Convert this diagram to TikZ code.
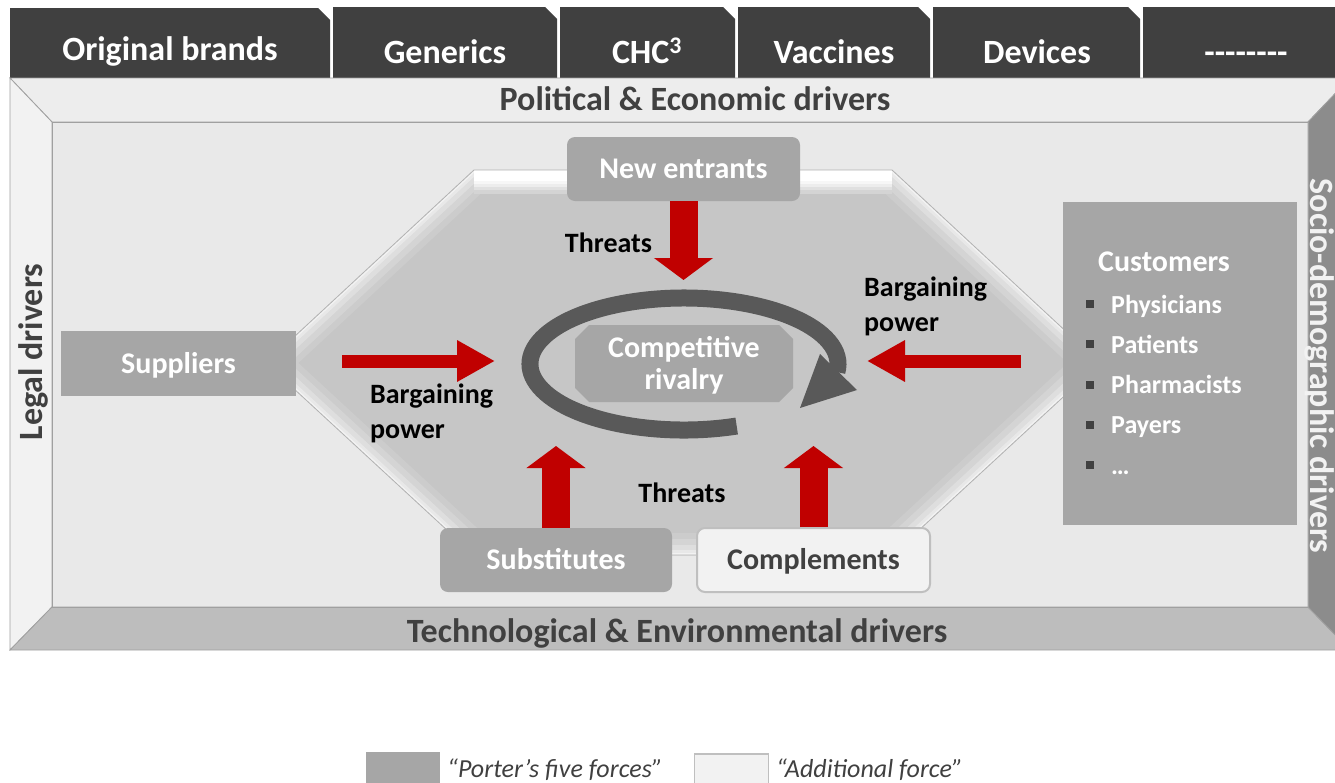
\documentclass[tikz,border=0pt]{standalone}
\usepackage{fontspec}
\setmainfont{Carlito}
\usepackage{xcolor}
\usepackage{tikz}
\usetikzlibrary{arrows.meta, positioning}
\definecolor{tabgray}{HTML}{404040}
\definecolor{boxgray}{HTML}{A6A6A6}
\definecolor{forcered}{HTML}{C00000}
\definecolor{ringgray}{HTML}{595959}
\definecolor{facegray}{HTML}{E9E9E9}
\definecolor{hexgray}{HTML}{C6C6C6}
\definecolor{edgegray}{HTML}{A0A0A0}
\definecolor{paleface}{HTML}{F2F2F2}
\newcommand{\tabfont}{\fontsize{34}{38}\selectfont\bfseries}
\newcommand{\driverfont}{\fontsize{34}{38}\selectfont\bfseries}
\newcommand{\forcefont}{\fontsize{30}{32}\selectfont\bfseries}
\newcommand{\threatfont}{\fontsize{28}{35}\selectfont\bfseries}
\newcommand{\itemfont}{\fontsize{26}{30}\selectfont\bfseries}
\newcommand{\legendfont}{\fontsize{26}{30}\selectfont\itshape}
\tikzstyle{force} = [rectangle, fill=boxgray, text=white, font=\forcefont, inner sep=0pt, text height=19pt, text depth=0pt]
\tikzstyle{roundforce} = [force, rounded corners=8pt]
\tikzstyle{threat} = [forcered, line width=28pt, -{Triangle[length=22pt, width=58pt]}]
\tikzstyle{bargain} = [forcered, line width=13pt, -{Triangle[length=38pt, width=39pt]}]
\tikzstyle{driver} = [font=\driverfont, text=tabgray, inner sep=0pt, anchor=base]
\tikzstyle{forcetext} = [font=\threatfont, align=left, inner sep=0pt]
\tikzstyle{bevel} = [draw=edgegray, line width=0.8pt]
\tikzstyle{ring} = [ringgray, line width=17pt]

\begin{document}
\begin{tikzpicture}[x=1pt, y=-1pt]
    \useasboundingbox (0,0) rectangle (1335,782);
    \clip (0,0) rectangle (1335,782);

    % segment tabs
    \foreach \xa/\xb/\ty in {10/330/8, 333/557/7, 560/735/7, 738/930/7, 933/1140/7, 1143/1360/7}
    {
        \fill[tabgray] (\xa,\ty) -- (\xb-12,\ty) -- (\xb,\ty+12) -- (\xb,78) -- (\xa,78) -- cycle;
    }
    \node (tab1) [font=\tabfont, text=white, anchor=base] at (170,60) {Original brands};
    \node (tab2) [font=\tabfont, text=white, anchor=base] at (445,63) {Generics};
    \node (tab3) [font=\tabfont, text=white, anchor=base] at (647,63) {CHC\textsuperscript{3}};
    \node (tab4) [font=\tabfont, text=white, anchor=base] at (834,63) {Vaccines};
    \node (tab5) [font=\tabfont, text=white, anchor=base] at (1037,63) {Devices};
    \node (tab6) [font=\tabfont, text=white, anchor=base] at (1246,63) {-{}-{}-{}-{}-{}-{}-{}-};

    % bevelled frame
    \fill[facegray] (52,122) rectangle (1308,607);
    \filldraw[bevel, fill=black!7] (10,78) -- (1350,78) -- (1308,122) -- (52,122) -- cycle;
    \filldraw[bevel, fill=paleface] (10,78) -- (52,122) -- (52,607) -- (10,650) -- cycle;
    \filldraw[bevel, fill=black!26] (10,650) -- (52,607) -- (1308,607) -- (1350,650) -- cycle;
    \filldraw[bevel, fill=black!45] (1350,78) -- (1308,122) -- (1308,607) -- (1350,650) -- cycle;
    \draw[bevel] (52,122) rectangle (1308,607);

    % market hexagon
    \def\hexpath{(266,363) -- (474,170) -- (892,170) -- (1100,363) -- (892,555) -- (474,555) -- cycle}
    \fill[hexgray] \hexpath;
    \begin{scope}
        \clip \hexpath;
        \draw[line width=44pt, black!20] \hexpath;
        \draw[line width=32pt, black!17] \hexpath;
        \draw[line width=20pt, black!13] \hexpath;
        \draw[line width=10pt, black!9] \hexpath;
        \draw[line width=4pt, black!5] \hexpath;
        \draw[line width=48pt, black!17] (474,170) -- (892,170);
        \draw[line width=40pt, black!12] (474,170) -- (892,170);
        \draw[line width=34pt, black!7] (474,170) -- (892,170);
        \draw[line width=28pt, black!3] (474,170) -- (892,170);
        \draw[line width=22pt, white] (474,170) -- (892,170);
    \end{scope}
    \draw[black!30, line width=0.8pt] \hexpath;

    % forces
    \node (entr) [roundforce, minimum width=233pt, minimum height=64pt] at (683.5,169) {New entrants};
    \node (supp) [force, minimum width=235pt, minimum height=65pt] at (178.5,363.5) {Suppliers};
    \node (cust) [force, minimum width=234pt, minimum height=323pt] at (1180,363.5) {};
    \node (subs) [roundforce, minimum width=232pt, minimum height=64pt] at (556,560) {Substitutes};
    \node (comp) [roundforce, fill=paleface, draw=black!25, line width=2pt, text=tabgray,
        minimum width=233pt, minimum height=64pt] at (813.5,560) {Complements};

    % customer list
    \node (custhead) [font=\forcefont, text=white, anchor=base west, inner sep=0pt] at (1098,271) {Customers};
    \foreach \itm [count=\i from 0] in {Physicians, Patients, Pharmacists, Payers, …}
    {
        \fill[tabgray] (1086,{300+40.3*\i}) rectangle (1094,{308+40.3*\i});
        \node[font=\itemfont, text=white, anchor=base west, inner sep=0pt] at (1111,{313+40.3*\i}) {\itm};
    }

    % red force arrows
    \coordinate (entrtip) at (683.5,280);
    \coordinate (supptip) at (495,361);
    \coordinate (custtip) at (867,361);
    \coordinate (substip) at (556,446);
    \coordinate (comptip) at (813.5,446);
    \draw[threat] (entr) -- (entrtip);
    \draw[threat] (subs) -- (substip);
    \draw[threat] (comp) -- (comptip);
    \draw[bargain, shorten <=46pt] (supp.east |- supptip) -- (supptip);
    \draw[bargain, shorten <=42pt] (cust.west |- custtip) -- (custtip);

    % rivalry cycle
    \draw[ring] (684,364) ++(70:154 and 66) arc[start angle=70, end angle=367, x radius=154, y radius=66];
    \fill[ringgray] (820,354) -- (857,390) -- (800,408) -- cycle;
    \fill[boxgray] (589,325) -- (779,325) -- (793,339) -- (793,388) -- (779,402)
        -- (589,402) -- (575,388) -- (575,339) -- cycle;
    \node (rival) [font=\forcefont, text=white, align=center, inner sep=0pt, anchor=north] at (684,336) {Competitive\\rivalry};

    % force labels
    \node (thrtop) [forcetext, anchor=base] at (608.5,252) {Threats};
    \node (thrbot) [forcetext, anchor=base] at (682,502) {Threats};
    \node (barleft) [forcetext, anchor=north west] at (370,384) {Bargaining\\power};
    \node (barright) [forcetext, anchor=north west] at (864,277) {Bargaining\\power};

    % environment drivers
    \node (polit) [driver] at (695,110) {Political \& Economic drivers};
    \node (techn) [driver] at (677,642) {Technological \& Environmental drivers};
    \node (legal) [driver, rotate=90] at (42,352) {Legal drivers};
    \node (socio) [driver, rotate=-90, text=paleface] at (1310,366) {Socio-demographic drivers};

    % legend
    \node (legporter) [fill=boxgray, minimum width=74pt, minimum height=38pt, inner sep=0pt] at (403,771) {};
    \node (legextra) [fill=paleface, draw=black!25, line width=1.5pt, minimum width=74pt, minimum height=38pt, inner sep=0pt] at (731.5,773) {};
    \node [font=\legendfont, text=tabgray, anchor=base west, inner sep=0pt] at (447,777) {“Porter’s five forces”};
    \node [font=\legendfont, text=tabgray, anchor=base west, inner sep=0pt] at (776,777) {“Additional force”};
\end{tikzpicture}
\end{document}
